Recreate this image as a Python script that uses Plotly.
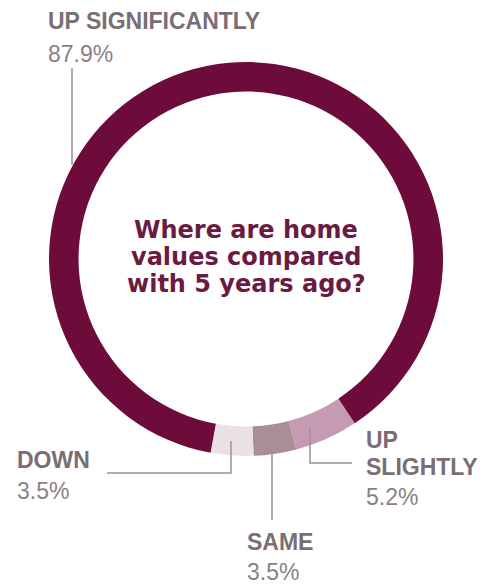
import plotly.graph_objects as go

# ---- data ----
categories = ["UP SLIGHTLY", "SAME", "DOWN", "UP SIGNIFICANTLY"]
values = [5.2, 3.5, 3.5, 87.9]
slice_colors = ["#c59bb3", "#a98e97", "#ebe0e4", "#6d0c3b"]
center_title = ["Where are home", "values compared", "with 5 years ago?"]

W, H = 490, 585


def px(x):
    return x / W


def py(y):
    return 1 - y / H


cx, cy, r = 246, 259, 197

fig = go.Figure(
    go.Pie(
        labels=categories,
        values=values,
        hole=0.85,
        sort=False,
        direction="clockwise",
        rotation=146.5,
        marker=dict(colors=slice_colors, line=dict(width=0)),
        textinfo="none",
        hoverinfo="label+percent",
        showlegend=False,
        domain=dict(x=[px(cx - r), px(cx + r)], y=[py(cy + r), py(cy - r)]),
    )
)

label_font = dict(family="Liberation Sans, Arial, sans-serif", size=23, color="#7b6d74")
pct_font = dict(family="Liberation Sans, Arial, sans-serif", size=23, color="#8a7f85")

# label layout: category -> (x, [line cap-center y ...], pct cap-center y)
label_layout = {
    "UP SIGNIFICANTLY": (47, [21.5], 53.5),
    "DOWN": (16, [460], 490.5),
    "SAME": (246, [541.5], 571.5),
    "UP SLIGHTLY": (365, [439.5, 466.5], 496.5),
}

annotations = []
for cat, val in zip(categories, values):
    x0, ys, ypct = label_layout[cat]
    parts = cat.split(" ") if len(ys) > 1 else [cat]
    for t, yy in zip(parts, ys):
        annotations.append(dict(x=px(x0), y=py(yy), xref="paper", yref="paper",
                                text=f"<b>{t}</b>", showarrow=False, borderpad=0,
                                xanchor="left", yanchor="middle", font=label_font))
    annotations.append(dict(x=px(x0), y=py(ypct), xref="paper", yref="paper",
                            text=f"{val}%", showarrow=False, borderpad=0,
                            xanchor="left", yanchor="middle", font=pct_font))

title_font = dict(family="DejaVu Sans, sans-serif", size=24, color="#6b1a42")
for line, yy in zip(center_title, [230, 257, 284]):
    annotations.append(dict(x=px(cx), y=py(yy), xref="paper", yref="paper",
                            text=f"<b>{line}</b>", showarrow=False, borderpad=0,
                            xanchor="center", yanchor="middle", font=title_font))

line_style = dict(color="#9a9296", width=1.5)
leader_paths = [
    [(72, 68), (72, 165)],
    [(107, 473), (231, 473), (231, 441)],
    [(272, 442), (272, 520)],
    [(310, 428), (310, 463), (352, 463)],
]
shapes = []
for pts in leader_paths:
    d = "M " + " L ".join(f"{px(a)},{py(b)}" for a, b in pts)
    shapes.append(dict(type="path", path=d, xref="paper", yref="paper",
                       line=line_style, layer="above"))

fig.update_layout(
    width=W, height=H,
    margin=dict(l=0, r=0, t=0, b=0),
    paper_bgcolor="white",
    plot_bgcolor="white",
    annotations=annotations,
    shapes=shapes,
)

fig.write_html("out.html")
